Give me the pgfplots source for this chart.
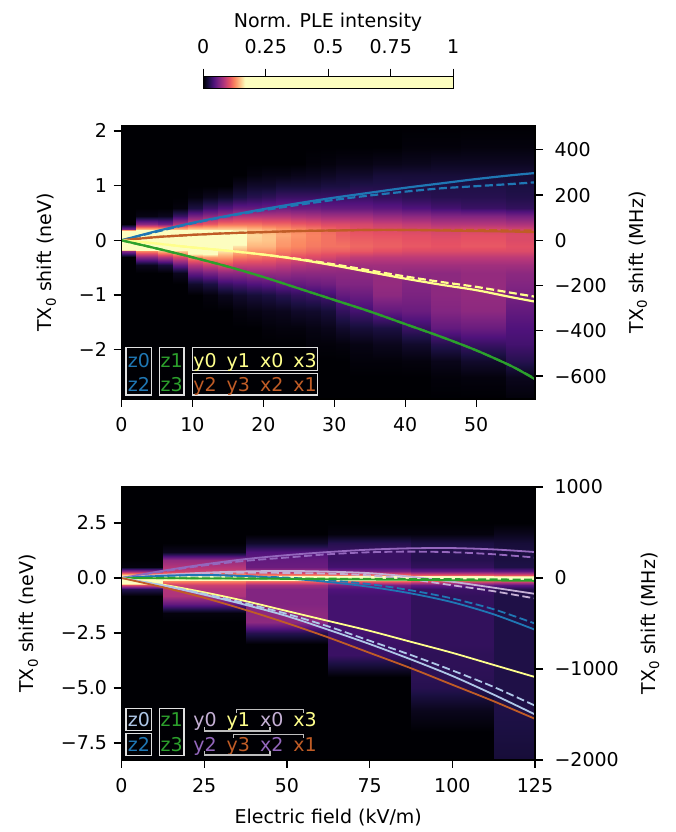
\documentclass[border=0pt]{standalone}
\usepackage{fontspec}
\setmainfont{DejaVu Sans}
\usepackage{pgfplots}
\usepackage{pgfplotstable}
\pgfplotsset{compat=1.18}

\definecolor{cblue}{RGB}{31,119,180}
\definecolor{cgreen}{RGB}{44,160,44}
\definecolor{cyel}{RGB}{255,255,140}
\definecolor{cbrown}{RGB}{192,92,38}
\definecolor{cpurple}{RGB}{148,103,189}
\definecolor{clav}{RGB}{197,176,213}
\definecolor{clblue}{RGB}{174,199,232}
\definecolor{boxgray}{RGB}{225,225,225}
\definecolor{brgray}{RGB}{190,190,190}

\pgfplotsset{
  colormap={magmac}{rgb255(0cm)=(0,0,4) rgb255(1cm)=(28,16,68) rgb255(2cm)=(79,18,123)
    rgb255(3cm)=(129,37,129) rgb255(4cm)=(181,54,122) rgb255(5cm)=(229,80,100)
    rgb255(6cm)=(251,135,97) rgb255(7cm)=(254,194,135) rgb255(8cm)=(252,253,191)
    rgb255(48cm)=(252,253,191)},
  basestyle/.style={scale only axis, width=413.5pt, height=273pt,
    axis line style={line width=1.2pt}, tick style={line width=1.2pt, black},
    major tick length=8pt, tick align=outside},
  leftstyle/.style={basestyle, axis on top, xtick pos=left, ytick pos=left,
    xticklabel style={yshift=-4pt}, ylabel style={yshift=10pt},
    point meta min=0, point meta max=1},
  rightstyle/.style={basestyle, axis x line=none, axis y line*=right,
    yticklabel pos=right, ylabel near ticks,
    yticklabel style={xshift=5pt}, ylabel style={yshift=-9pt},
    ylabel={TX\textsubscript{0} shift (MHz)}},
}

% intensity (normalised PLE) per field column, top panel
\pgfplotstableread{
y c1 c2 c3 c4 c5 c6 c7 c8 c9 c10 c11 c12 c13 c14 c15 c16 c17 c18 c19 c20 c21
-2.9 0 0 0 0 0 0 0 0 0 0 0 0 0 0 0 0 0 0 0 0 0.002
-2.5 0 0 0 0 0 0 0 0 0 0 0 0 0 0 0 0 0 0 0.002 0.003 0.008
-2.2 0 0 0 0 0 0 0 0 0 0 0 0 0 0 0 0.002 0.002 0.003 0.007 0.013 0.025
-1.9 0 0 0 0 0 0 0 0 0 0 0 0 0.002 0.002 0.003 0.005 0.008 0.013 0.025 0.033 0.037
-1.6 0 0 0 0 0 0 0 0 0 0.002 0.003 0.003 0.005 0.007 0.013 0.017 0.020 0.033 0.050 0.053 0.042
-1.3 0 0 0 0 0 0 0 0.003 0.005 0.007 0.008 0.012 0.013 0.017 0.030 0.037 0.050 0.053 0.063 0.067 0.050
-1.0 0 0 0 0 0 0.003 0.008 0.013 0.017 0.020 0.025 0.030 0.033 0.037 0.050 0.053 0.067 0.060 0.067 0.070 0.058
-0.8 0 0 0 0 0.013 0.020 0.033 0.037 0.042 0.045 0.050 0.050 0.053 0.055 0.062 0.062 0.070 0.063 0.067 0.070 0.063
-0.6 0 0 0 0.008 0.050 0.058 0.067 0.067 0.070 0.070 0.070 0.067 0.067 0.067 0.067 0.067 0.070 0.067 0.067 0.070 0.067
-0.45 0 0.008 0.017 0.050 0.083 0.092 0.100 0.092 0.092 0.092 0.087 0.083 0.080 0.078 0.075 0.075 0.075 0.075 0.075 0.075 0.075
-0.3 0 0.067 0.083 0.100 0.125 0.133 0.133 0.120 0.117 0.113 0.108 0.103 0.100 0.097 0.092 0.088 0.087 0.087 0.087 0.087 0.087
-0.2 0.067 0.125 0.142 0.150 0.2 0.2 0.158 0.142 0.130 0.130 0.120 0.117 0.113 0.110 0.110 0.107 0.103 0.100 0.100 0.100 0.100
-0.1 0.5 0.4 0.35 0.3 0.3 0.3 0.25 0.158 0.142 0.142 0.130 0.125 0.120 0.117 0.117 0.113 0.110 0.107 0.105 0.107 0.103
0 1.0 0.8 0.6 0.5 0.4 0.35 0.3 0.2 0.150 0.147 0.133 0.127 0.122 0.117 0.113 0.110 0.108 0.105 0.103 0.105 0.100
0.1 0.5 0.4 0.35 0.3 0.3 0.3 0.25 0.2 0.153 0.147 0.137 0.130 0.123 0.117 0.110 0.107 0.105 0.103 0.100 0.103 0.100
0.2 0.058 0.142 0.142 0.142 0.150 0.150 0.150 0.150 0.142 0.137 0.130 0.125 0.120 0.113 0.108 0.103 0.100 0.097 0.095 0.097 0.095
0.3 0 0.067 0.058 0.083 0.100 0.108 0.117 0.117 0.117 0.113 0.113 0.108 0.105 0.100 0.100 0.097 0.092 0.088 0.083 0.083 0.080
0.45 0 0.005 0.008 0.033 0.058 0.067 0.075 0.083 0.083 0.083 0.083 0.080 0.078 0.075 0.075 0.075 0.070 0.067 0.063 0.063 0.058
0.6 0 0 0 0.003 0.020 0.033 0.042 0.050 0.050 0.053 0.055 0.053 0.053 0.050 0.050 0.050 0.047 0.042 0.037 0.033 0.030
0.8 0 0 0 0 0.003 0.008 0.013 0.020 0.025 0.028 0.033 0.033 0.033 0.033 0.033 0.033 0.030 0.027 0.025 0.025 0.023
1.0 0 0 0 0 0 0 0 0.008 0.013 0.013 0.017 0.017 0.017 0.020 0.020 0.023 0.023 0.022 0.022 0.022 0.020
1.2 0 0 0 0 0 0 0 0 0.003 0.005 0.005 0.007 0.008 0.010 0.013 0.013 0.017 0.017 0.017 0.017 0.017
1.4 0 0 0 0 0 0 0 0 0 0 0 0 0.002 0.003 0.005 0.005 0.007 0.008 0.010 0.010 0.010
1.7 0 0 0 0 0 0 0 0 0 0 0 0 0 0 0 0 0 0.002 0.002 0.003 0.003
2.09 0 0 0 0 0 0 0 0 0 0 0 0 0 0 0 0 0 0 0 0 0
}\topheat
\pgfplotstablevertcat{\topD}{\topheat}
\pgfplotstablevertcat{\topD}{\topheat}

% bottom panel
\pgfplotstableread{
y b1 b2 b3 b4 b5 b6
-8.271 0 0 0 0 0 0.017
-7.0 0 0 0 0 0 0.020
-6.0 0 0 0 0 0.008 0.022
-5.0 0 0 0 0 0.025 0.022
-4.5 0 0 0 0 0.027 0.022
-4.0 0 0 0 0.017 0.028 0.022
-3.5 0 0 0 0.033 0.028 0.022
-3.0 0 0 0 0.033 0.030 0.022
-2.5 0 0 0.025 0.037 0.030 0.022
-2.0 0 0 0.067 0.037 0.030 0.022
-1.6 0 0.003 0.067 0.037 0.030 0.022
-1.2 0 0.050 0.063 0.037 0.030 0.022
-0.8 0 0.080 0.063 0.037 0.030 0.022
-0.5 0.025 0.083 0.063 0.042 0.033 0.025
-0.3 0.100 0.092 0.075 0.058 0.050 0.047
-0.15 0.3 0.125 0.117 0.117 0.108 0.103
-0.05 0.6 0.3 0.25 0.25 0.22 0.2
0.05 0.6 0.3 0.25 0.25 0.22 0.2
0.15 0.15 0.133 0.125 0.120 0.108 0.103
0.3 0.067 0.092 0.075 0.058 0.050 0.047
0.5 0.003 0.083 0.053 0.037 0.030 0.022
0.8 0 0.070 0.050 0.033 0.025 0.020
1.2 0 0.008 0.042 0.033 0.025 0.020
1.6 0 0 0.013 0.025 0.020 0.017
2.0 0 0 0 0.003 0.003 0.008
2.5 0 0 0 0 0 0
4.136 0 0 0 0 0 0
}\botheat
\pgfplotstablevertcat{\botD}{\botheat}
\pgfplotstablevertcat{\botD}{\botheat}

% one field column of the map: table, column, left edge, right edge, rows
\newcommand{\heatcol}[5]{%
  \addplot[surf, shader=interp, mesh/ordering=y varies, mesh/rows=#5, mesh/cols=2,
    point meta=explicit]
    table[x expr={\coordindex<#5 ? #3 : #4}, y=y, meta=#2] {#1};}

\tikzset{lt/.style={inner sep=0pt, text height=0.73em, text depth=0pt}}

\begin{document}
\fontsize{19}{22.8}\selectfont
\begin{tikzpicture}
\path[use as bounding box] (0pt,0pt) rectangle (676pt,832pt);

% ---------- top panel ----------
\begin{axis}[leftstyle, at={(121.5pt,433pt)}, anchor=south west,
  xmin=0, xmax=58.3, ymin=-2.9, ymax=2.09,
  xtick={0,10,20,30,40,50}, xticklabels={0,10,20,30,40,50},
  ytick={-2,-1,0,1,2}, yticklabels={−2,−1,0,1,2},
  ylabel={TX\textsubscript{0} shift (neV)},
  colorbar horizontal,
  colorbar style={at={(parent axis.north)}, anchor=south, yshift=46pt,
    scale only axis, width=250pt, height=12pt,
    xtick={0,0.25,0.5,0.75,1}, xticklabels={0,0.25,0.5,0.75,1},
    xtick pos=right, xticklabel pos=right, ytick=\empty,
    xticklabel style={yshift=8pt},
    major tick length=8pt, tick align=outside,
    tick style={line width=1.2pt, black}, axis line style={line width=1.2pt}},
]
\heatcol{\topD}{c1}{0}{2.1}{25}
\heatcol{\topD}{c2}{2.1}{5.2}{25}
\heatcol{\topD}{c3}{5.2}{7.3}{25}
\heatcol{\topD}{c4}{7.3}{9.4}{25}
\heatcol{\topD}{c5}{9.4}{11.5}{25}
\heatcol{\topD}{c6}{11.5}{13.6}{25}
\heatcol{\topD}{c7}{13.6}{15.7}{25}
\heatcol{\topD}{c8}{15.7}{17.7}{25}
\heatcol{\topD}{c9}{17.7}{19.8}{25}
\heatcol{\topD}{c10}{19.8}{21.8}{25}
\heatcol{\topD}{c11}{21.8}{23.9}{25}
\heatcol{\topD}{c12}{23.9}{26.0}{25}
\heatcol{\topD}{c13}{26.0}{28.1}{25}
\heatcol{\topD}{c14}{28.1}{30.3}{25}
\heatcol{\topD}{c15}{30.3}{32.2}{25}
\heatcol{\topD}{c16}{32.2}{35.4}{25}
\heatcol{\topD}{c17}{35.4}{39.5}{25}
\heatcol{\topD}{c18}{39.5}{43.7}{25}
\heatcol{\topD}{c19}{43.7}{47.9}{25}
\heatcol{\topD}{c20}{47.9}{54.2}{25}
\heatcol{\topD}{c21}{54.2}{58.3}{25}

% z0 / z2
\addplot[cblue, line width=2.2pt, smooth] coordinates {(0,0) (5,0.17) (10,0.32) (15,0.45) (20,0.57) (25,0.68) (30,0.78) (35,0.87) (40,0.96) (45,1.04) (50,1.12) (55,1.19) (58.3,1.23)};
\addplot[cblue, line width=2.2pt, smooth, dash pattern=on 8pt off 3.5pt] coordinates {(0,0) (5,0.16) (10,0.31) (15,0.44) (20,0.55) (25,0.65) (30,0.74) (35,0.82) (40,0.89) (45,0.95) (50,0.99) (55,1.03) (58.3,1.06)};
% y2 y3 x2 x1
\addplot[cbrown, line width=2.2pt, smooth] coordinates {(0,0) (5,0.06) (10,0.10) (15,0.13) (20,0.15) (25,0.17) (30,0.18) (35,0.19) (40,0.19) (45,0.18) (50,0.17) (55,0.16) (58.3,0.15)};
\addplot[cbrown, line width=2.2pt, smooth, dash pattern=on 8pt off 3.5pt] coordinates {(0,0) (5,0.06) (10,0.10) (15,0.13) (20,0.15) (25,0.17) (30,0.18) (35,0.19) (40,0.19) (45,0.19) (50,0.19) (55,0.18) (58.3,0.18)};
% y0 y1 x0 x3
\addplot[cyel, line width=2.2pt, smooth] coordinates {(0,0) (5,-0.06) (10,-0.13) (15,-0.19) (20,-0.26) (25,-0.35) (30,-0.46) (35,-0.58) (40,-0.70) (45,-0.81) (50,-0.91) (55,-1.04) (58.3,-1.12)};
\addplot[cyel, line width=2.2pt, smooth, dash pattern=on 8pt off 3.5pt] coordinates {(0,0) (5,-0.06) (10,-0.13) (15,-0.19) (20,-0.26) (25,-0.34) (30,-0.44) (35,-0.55) (40,-0.66) (45,-0.76) (50,-0.85) (55,-0.96) (58.3,-1.03)};
% z1 / z3
\addplot[cgreen, line width=2.2pt, smooth] coordinates {(0,0) (5,-0.15) (10,-0.31) (15,-0.48) (20,-0.67) (25,-0.88) (30,-1.09) (35,-1.30) (40,-1.53) (45,-1.76) (50,-2.01) (55,-2.30) (58.3,-2.54)};
\addplot[cgreen, line width=2.2pt, smooth, dash pattern=on 8pt off 3.5pt] coordinates {(0,0) (5,-0.15) (10,-0.31) (15,-0.48) (20,-0.67) (25,-0.88) (30,-1.09) (35,-1.30) (40,-1.53) (45,-1.76) (50,-2.01) (55,-2.30) (58.3,-2.53)};
\end{axis}

\begin{axis}[rightstyle, at={(121.5pt,433pt)}, anchor=south west,
  xmin=0, xmax=58.3, ymin=-701.2, ymax=505.4,
  ytick={-600,-400,-200,0,200,400}, yticklabels={−600,−400,−200,0,200,400}]
\addplot[draw=none] coordinates {(0,0)};
\end{axis}

% ---------- bottom panel ----------
\begin{axis}[leftstyle, at={(121.5pt,72pt)}, anchor=south west,
  xmin=0, xmax=125, ymin=-8.271, ymax=4.136,
  xtick={0,25,50,75,100,125}, xticklabels={0,25,50,75,100,125},
  ytick={-7.5,-5,-2.5,0,2.5}, yticklabels={−7.5,−5.0,−2.5,0.0,2.5},
  xlabel={Electric field (kV/m)}, xlabel style={yshift=-3pt},
  ylabel={TX\textsubscript{0} shift (neV)}]
\heatcol{\botD}{b1}{0}{12.5}{27}
\heatcol{\botD}{b2}{12.5}{37.5}{27}
\heatcol{\botD}{b3}{37.5}{62.5}{27}
\heatcol{\botD}{b4}{62.5}{87.5}{27}
\heatcol{\botD}{b5}{87.5}{112.5}{27}
\heatcol{\botD}{b6}{112.5}{125}{27}

% y2 / x2
\addplot[cpurple, line width=1.8pt, smooth] coordinates {(0,0) (12.5,0.33) (25,0.62) (37.5,0.86) (50,1.04) (62.5,1.18) (75,1.29) (87.5,1.35) (100,1.36) (112.5,1.30) (125,1.18)};
\addplot[cpurple, line width=1.8pt, smooth, dash pattern=on 8pt off 3.5pt] coordinates {(0,0) (12.5,0.30) (25,0.57) (37.5,0.78) (50,0.93) (62.5,1.08) (75,1.17) (87.5,1.20) (100,1.17) (112.5,1.08) (125,0.93)};
% y0 / x0
\addplot[clav, line width=1.8pt, smooth] coordinates {(0,0) (12.5,0.14) (25,0.24) (37.5,0.30) (50,0.32) (62.5,0.29) (75,0.22) (87.5,0.06) (100,-0.17) (112.5,-0.44) (125,-0.72)};
\addplot[clav, line width=1.8pt, smooth, dash pattern=on 8pt off 3.5pt] coordinates {(0,0) (12.5,0.12) (25,0.20) (37.5,0.24) (50,0.23) (62.5,0.20) (75,0.12) (87.5,-0.06) (100,-0.33) (112.5,-0.60) (125,-0.93)};
% z2
\addplot[cblue, line width=1.8pt, smooth] coordinates {(0,0) (12.5,0.10) (25,0.14) (37.5,0.09) (50,-0.02) (62.5,-0.18) (75,-0.40) (87.5,-0.70) (100,-1.10) (112.5,-1.65) (125,-2.35)};
\addplot[cblue, line width=1.8pt, smooth, dash pattern=on 8pt off 3.5pt] coordinates {(0,0) (12.5,0.09) (25,0.12) (37.5,0.08) (50,0.02) (62.5,-0.10) (75,-0.28) (87.5,-0.56) (100,-0.93) (112.5,-1.42) (125,-2.07)};
% z1 / z3
\addplot[cgreen, line width=1.8pt] coordinates {(0,0) (25,-0.02) (50,-0.04) (75,-0.07) (100,-0.10) (125,-0.13)};
\addplot[cgreen, line width=1.8pt, dash pattern=on 8pt off 3.5pt] coordinates {(0,0) (50,-0.02) (100,-0.05) (125,-0.07)};
% y1 / x3
\addplot[cyel, line width=1.8pt, smooth] coordinates {(0,0) (12.5,-0.30) (25,-0.65) (37.5,-1.05) (50,-1.50) (62.5,-1.95) (75,-2.40) (87.5,-2.90) (100,-3.40) (112.5,-3.95) (125,-4.50)};
% z0
\addplot[clblue, line width=1.8pt, smooth, dash pattern=on 8pt off 3.5pt] coordinates {(0,0) (12.5,-0.33) (25,-0.72) (37.5,-1.15) (50,-1.63) (62.5,-2.20) (75,-2.85) (87.5,-3.50) (100,-4.20) (112.5,-4.95) (125,-5.80)};
\addplot[clblue, line width=1.8pt, smooth] coordinates {(0,0) (12.5,-0.34) (25,-0.76) (37.5,-1.22) (50,-1.73) (62.5,-2.35) (75,-3.00) (87.5,-3.70) (100,-4.45) (112.5,-5.30) (125,-6.20)};
% y3 / x1
\addplot[cbrown, line width=1.8pt, smooth] coordinates {(0,0) (12.5,-0.42) (25,-0.90) (37.5,-1.45) (50,-2.05) (62.5,-2.70) (75,-3.40) (87.5,-4.10) (100,-4.85) (112.5,-5.60) (125,-6.40)};
\end{axis}

\begin{axis}[rightstyle, at={(121.5pt,72pt)}, anchor=south west,
  xmin=0, xmax=125, ymin=-2000, ymax=1000,
  ytick={-2000,-1000,0,1000}, yticklabels={−2000,−1000,0,1000}]
\addplot[draw=none] coordinates {(0,0)};
\end{axis}

\begin{scope}[x=1pt,y=1pt]
% colour bar title
\node[anchor=base] at (328,804.4) {Norm. PLE intensity};

% ---------- top legend ----------
\draw[boxgray, line width=1.2pt] (126,437) rectangle (151.7,484.3);
\draw[boxgray, line width=1.2pt] (159.3,437) rectangle (184,484.3);
\draw[boxgray, line width=1.2pt] (192.3,461.3) rectangle (317.3,484.3);
\draw[boxgray, line width=1.2pt] (192.3,437) rectangle (317.3,458.7);
\node[lt, text=cblue] at (139,471.3) {z0};
\node[lt, text=cblue] at (139,447) {z2};
\node[lt, text=cgreen] at (171.7,471.3) {z1};
\node[lt, text=cgreen] at (171.7,447) {z3};
\node[lt, text=cyel] at (205,471.3) {y0};
\node[lt, text=cyel] at (238.3,471.3) {y1};
\node[lt, text=cyel] at (271.7,471.3) {x0};
\node[lt, text=cyel] at (305,471.3) {x3};
\node[lt, text=cbrown] at (205,447) {y2};
\node[lt, text=cbrown] at (238.3,447) {y3};
\node[lt, text=cbrown] at (271.7,447) {x2};
\node[lt, text=cbrown] at (305,447) {x1};

% ---------- bottom legend ----------
\draw[boxgray, line width=1.2pt] (126,101.3) rectangle (151.7,123.7);
\draw[boxgray, line width=1.2pt] (126,76.3) rectangle (151.7,98.7);
\draw[boxgray, line width=1.2pt] (159.3,76.3) rectangle (184,123.7);
\node[lt, text=clblue] at (139,112) {z0};
\node[lt, text=cblue] at (139,87) {z2};
\node[lt, text=cgreen] at (171.7,112) {z1};
\node[lt, text=cgreen] at (171.7,87) {z3};
\node[lt, text=clav] at (205,112) {y0};
\node[lt, text=cyel] at (238.3,112) {y1};
\node[lt, text=clav] at (271.7,112) {x0};
\node[lt, text=cyel] at (305,112) {x3};
\node[lt, text=cpurple] at (205,87) {y2};
\node[lt, text=cbrown] at (238.3,87) {y3};
\node[lt, text=cpurple] at (271.7,87) {x2};
\node[lt, text=cbrown] at (305,87) {x1};
\draw[brgray, line width=1.2pt] (236.7,119) -- (236.7,122.7) -- (303.3,122.7) -- (303.3,119);
\draw[brgray, line width=1.2pt] (204.3,104.7) -- (204.3,101) -- (270,101) -- (270,104.7);
\draw[brgray, line width=1.2pt] (233.3,94) -- (233.3,97.7) -- (303.3,97.7) -- (303.3,94);
\draw[brgray, line width=1.2pt] (204.3,80.7) -- (204.3,77) -- (270,77) -- (270,80.7);
\end{scope}
\end{tikzpicture}
\end{document}
